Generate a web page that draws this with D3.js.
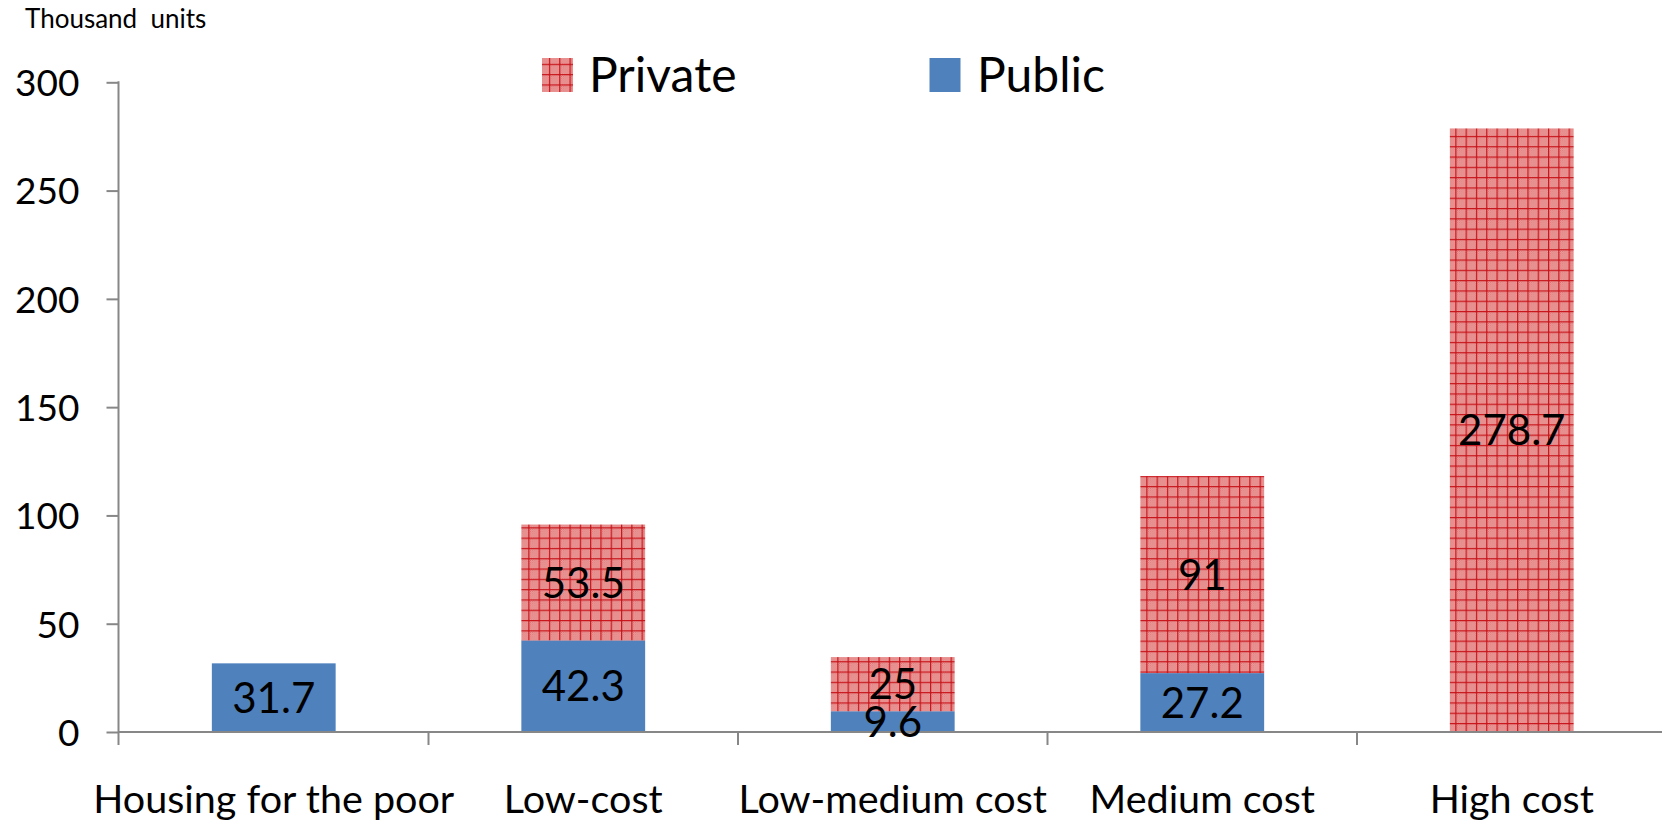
<!DOCTYPE html>
<html>
<head>
<meta charset="utf-8">
<script src="https://cdn.jsdelivr.net/npm/d3@7"></script>
<style>
  html, body { margin: 0; padding: 0; background: #fff; }
  svg { display: block; }
  text { font-family: Lato, "Open Sans", sans-serif; fill: #000; }
</style>
</head>
<body>
<svg id="chart" width="1662" height="821"></svg>
<script>
const categories = ["Housing for the poor", "Low-cost", "Low-medium cost", "Medium cost", "High cost"];
const publicValues = [31.7, 42.3, 9.6, 27.2, 0];
const privateValues = [0, 53.5, 25, 91, 278.7];
const yTicks = [0, 50, 100, 150, 200, 250, 300];
const seriesNames = ["Private", "Public"];
const unitLabel = "Thousand  units";

(function () {
const svg = d3.select("#chart");
const W = 1662;
const plotLeft = 119, plotTop = 82.3, plotBottom = 732;
const bandW = 309.5;

const x = d3.scaleBand().domain(categories).range([plotLeft, plotLeft + bandW * categories.length]).paddingInner(0).paddingOuter(0);
const y = d3.scaleLinear().domain([0, 300]).range([plotBottom, plotTop]);

const defs = svg.append("defs");
const dither = defs.append("pattern").attr("id", "dither").attr("patternUnits", "userSpaceOnUse")
  .attr("width", 2).attr("height", 2);
dither.append("rect").attr("width", 2).attr("height", 2).attr("fill", "#f2b4b4");
dither.append("rect").attr("width", 1).attr("height", 1).attr("fill", "#dc6a6a");
dither.append("rect").attr("x", 1).attr("y", 1).attr("width", 1).attr("height", 1).attr("fill", "#dc6a6a");

const grid = defs.append("pattern").attr("id", "grid").attr("patternUnits", "userSpaceOnUse")
  .attr("width", 10.3).attr("height", 10.3).attr("x", 3).attr("y", 2);
grid.append("rect").attr("width", 10.3).attr("height", 10.3).attr("fill", "url(#dither)");
grid.append("rect").attr("x", 0).attr("y", 0).attr("width", 1.2).attr("height", 10.3).attr("fill", "#c8141a");
grid.append("rect").attr("x", 0).attr("y", 0).attr("width", 10.3).attr("height", 1.2).attr("fill", "#c8141a");

const colors = { Public: "#4f81bd", Private: "url(#grid)" };

const rows = categories.map((c, i) => ({ cat: c, Public: publicValues[i], Private: privateValues[i] }));
const stacked = d3.stack().keys(["Public", "Private"])(rows);

const barW = x.bandwidth() * 0.4;

stacked.forEach(layer => {
  svg.append("g").selectAll("rect").data(layer.filter(d => d[1] - d[0] > 0)).join("rect")
    .attr("x", d => x(d.data.cat) + (x.bandwidth() - barW) / 2)
    .attr("width", barW)
    .attr("y", d => y(d[1]))
    .attr("height", d => y(d[0]) - y(d[1]))
    .attr("fill", colors[layer.key]);
});

const axisColor = "#878787";
const yAxis = svg.append("g").attr("transform", `translate(${plotLeft - 0.5},0)`)
  .call(d3.axisLeft(y).tickValues(yTicks).tickSize(12).tickPadding(27).tickFormat(d3.format("d")));
yAxis.select(".domain").remove();
yAxis.selectAll(".tick line").attr("stroke", axisColor).attr("stroke-width", 2);
yAxis.selectAll(".tick text").style("font-size", "37px").attr("dy", "0.36em").style("font-family", "Lato, sans-serif").attr("fill", "#000");
svg.append("line").attr("x1", plotLeft - 0.5).attr("x2", plotLeft - 0.5).attr("y1", plotTop - 1).attr("y2", plotBottom + 13)
  .attr("stroke", axisColor).attr("stroke-width", 2);

const xAxis = svg.append("g").attr("transform", `translate(0,${plotBottom})`)
  .call(d3.axisBottom(x).tickSize(0).tickPadding(0));
xAxis.select(".domain").remove();
xAxis.selectAll(".tick text").attr("y", 81).attr("dy", 0).style("font-size", "39.5px").style("font-family", "Lato, sans-serif").attr("fill", "#000");
svg.append("line").attr("x1", plotLeft - 1).attr("x2", W).attr("y1", plotBottom).attr("y2", plotBottom)
  .attr("stroke", axisColor).attr("stroke-width", 2);
const bounds = categories.map(c => x(c)).concat([x.range()[1]]).slice(1);
svg.append("g").selectAll("line").data(bounds).join("line")
  .attr("x1", d => d).attr("x2", d => d).attr("y1", plotBottom).attr("y2", plotBottom + 13)
  .attr("stroke", axisColor).attr("stroke-width", 2);

stacked.forEach(layer => {
  svg.append("g").selectAll("text").data(layer.filter(d => d[1] - d[0] > 0)).join("text")
    .attr("x", d => x(d.data.cat) + x.bandwidth() / 2)
    .attr("y", d => (y(d[0]) + y(d[1])) / 2)
    .attr("dy", "0.36em")
    .attr("text-anchor", "middle")
    .style("font-size", "42px")
    .text(d => d.data[layer.key]);
});

svg.append("text").attr("x", 25).attr("y", 28).style("font-size", "26px").style("white-space", "pre").text(unitLabel);

const legendPos = { Private: { sx: 542, tx: 589 }, Public: { sx: 929.5, tx: 977 } };
seriesNames.forEach(s => {
  svg.append("rect").attr("x", legendPos[s].sx).attr("y", 58).attr("width", 31).attr("height", 34)
    .attr("fill", colors[s]);
  svg.append("text").attr("x", legendPos[s].tx).attr("y", 92).style("font-size", "48px").text(s);
});
})();
</script>
</body>
</html>
